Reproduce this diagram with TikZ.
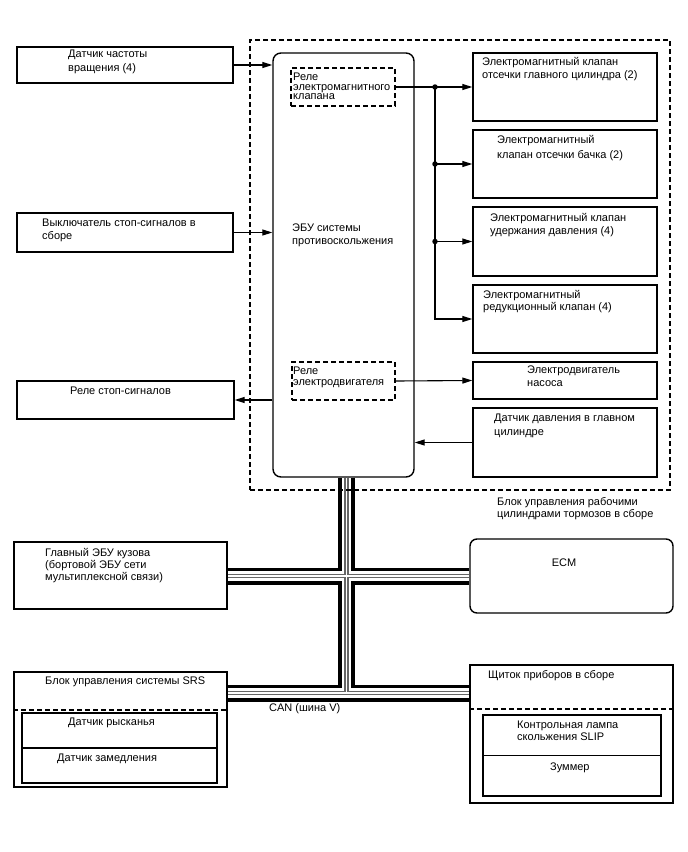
\documentclass[tikz,border=0pt]{standalone}
\usepackage{fontspec}
\setmainfont{Liberation Sans}
\usetikzlibrary{arrows.meta,backgrounds}
\begin{document}
\begin{tikzpicture}[x=1pt,y=-1pt,
  bx/.style 2 args={draw, line width=1.4pt, inner sep=0pt, minimum width=#1, minimum height=#2},
  dsh/.style={dash pattern=on 5pt off 3pt},
  txt/.style={anchor=north west, inner sep=0pt, align=left, font=\fontsize{11}{13}\selectfont},
  arr/.style={-{Triangle[length=10pt,width=6pt]}, line width=1.1pt},
  dot/.style={circle, fill, inner sep=0pt, minimum size=5.5pt}
]
\useasboundingbox (0,0) rectangle (688,852);

% left boxes
\node[bx={216}{36}] (s1) at (125,65) {};
\node[bx={216}{39}] (s2) at (125,232.5) {};
\node[bx={217}{38}] (s3) at (125.5,400) {};
% outer dashed block
\node[bx={420}{450}, dsh] (blk) at (460,265) {};
% ECU
\node[bx={141}{424}, rounded corners=8pt] (ecu) at (343.5,265) {};
\node[bx={104}{38}, dsh] (r1) at (343,87) {};
\node[bx={103}{38}, dsh] (r2) at (343.5,381) {};
% right boxes
\node[bx={184}{68}] (va) at (565,87) {};
\node[bx={184}{68}] (vb) at (565,164) {};
\node[bx={184}{69}] (vc) at (565,241.5) {};
\node[bx={184}{68}] (vd) at (565,319) {};
\node[bx={184}{37}] (pm) at (565,380.5) {};
\node[bx={184}{69}] (ps) at (565,442.5) {};
% bottom boxes
\node[bx={213}{67}] (gb) at (120.5,575.5) {};
\node[bx={203}{74}, rounded corners=7pt] (ecm) at (571.5,576) {};
\node[bx={213}{115}] (srs) at (120.5,729.5) {};
\node[bx={195}{70}] (srsin) at (119.5,748) {};
\node[bx={203}{138}] (cl) at (571.5,734) {};
\node[bx={178}{81}] (clin) at (572,755.5) {};
\draw[line width=1.4pt] (srsin.west) -- (srsin.east);
\draw[line width=1.4pt] (clin.west) -- (clin.east);
\draw[line width=1.4pt, dsh] (srs.west |- 0,710) -- (srs.east |- 0,710);
\draw[line width=1.4pt, dsh] (cl.west |- 0,709) -- (cl.east |- 0,709);

% bus
\coordinate (bx) at (346.5,576);
\coordinate (bb) at (346.5,693);
\begin{pgfonlayer}{background}
\foreach \w/\c in {17/black,9.5/white,4.5/black!60,1.3/white}{
  \draw[line width=\w pt, \c] (ecu.south -| bx) -- (bb)
    (gb.east |- bx) -- (ecm.west |- bx)
    (srs.east |- bb) -- (cl.west |- bb);
}
\end{pgfonlayer}

% connectors
\coordinate (J1) at (435,87);
\draw[arr] (s1.east) -- (s1.east -| ecu.west);
\draw[arr] (s2.east) -- (s2.east -| ecu.west);
\draw[arr] (s3.east -| ecu.west) -- (s3.east);
\draw[arr] (r1.east) -- (va.west);
\draw[arr] (J1) |- (vd.west);
\draw[arr] (J1 |- vb.west) -- (vb.west);
\draw[arr] (J1 |- vc.west) -- (vc.west);
\node[dot] (d1) at (J1) {};
\node[dot] (d2) at (J1 |- vb.west) {};
\node[dot] (d3) at (J1 |- vc.west) {};
\draw[arr] (r2.east) -- (pm.west);
\draw[arr] (ps.west) -- (ps.west -| ecu.east);

% texts
\node[txt, font=\fontsize{11}{14}\selectfont] (t1) at (68,50) {Датчик частоты\\вращения (4)};
\node[txt] (t2) at (42,219) {Выключатель стоп-сигналов в\\сборе};
\node[txt] (t3) at (70,387) {Реле стоп-сигналов};
\node[txt] (tecu) at (292,224) {ЭБУ системы\\противоскольжения};
\node[txt, font=\fontsize{11}{9.5}\selectfont] (tr1) at (293,73) {Реле\\электромагнитного\\клапана};
\node[txt, font=\fontsize{11}{11}\selectfont] (tr2) at (293,367) {Реле\\электродвигателя};
\node[txt] (ta) at (482,57) {Электромагнитный клапан\\отсечки главного цилиндра (2)};
\node[txt, font=\fontsize{11}{15}\selectfont] (tb) at (497,135) {Электромагнитный\\клапан отсечки бачка (2)};
\node[txt] (tc) at (490,213) {Электромагнитный клапан\\удержания давления (4)};
\node[txt, font=\fontsize{11}{12}\selectfont] (td) at (483,290) {Электромагнитный\\редукционный клапан (4)};
\node[txt] (te) at (527,366) {Электродвигатель\\насоса};
\node[txt, font=\fontsize{11}{14}\selectfont] (tf) at (494,414) {Датчик давления в главном\\цилиндре};
\node[txt, font=\fontsize{11}{12.5}\selectfont] (tcap) at (497,497) {Блок управления рабочими\\цилиндрами тормозов в сборе};
\node[txt, font=\fontsize{11}{12}\selectfont] (tg) at (45,548) {Главный ЭБУ кузова\\(бортовой ЭБУ сети\\мультиплексной связи)};
\node[txt] (tsrs) at (45,677) {Блок управления системы SRS};
\node[txt] (tyaw) at (68,718) {Датчик рысканья};
\node[txt] (tdec) at (57,754) {Датчик замедления};
\node[txt] (tcan) at (269,703) {CAN (шина V)};
\node[inner sep=0pt, font=\fontsize{11}{13}\selectfont] (tecm) at (564,563) {ECM};
\node[txt] (tcl) at (488,670) {Щиток приборов в сборе};
\node[txt, font=\fontsize{11}{12}\selectfont] (tslip) at (517,721) {Контрольная лампа\\скольжения SLIP};
\node[txt] (tbuz) at (550,763) {Зуммер};
\end{tikzpicture}
\end{document}
